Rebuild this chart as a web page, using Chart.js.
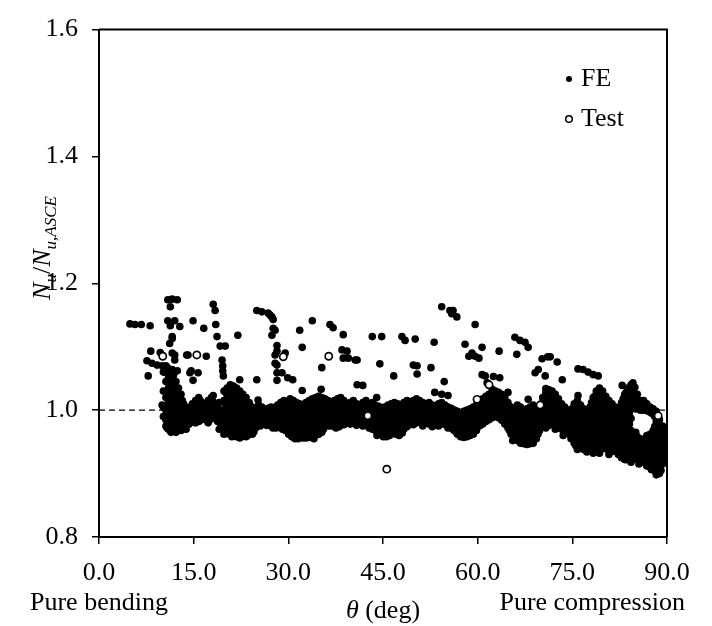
<!DOCTYPE html>
<html>
<head>
<meta charset="utf-8">
<script src="https://cdn.jsdelivr.net/npm/chart.js@4.4.1/dist/chart.umd.min.js"></script>
<style>
  html, body { margin: 0; padding: 0; background: #fff; }
  #wrap { width: 712px; height: 626px; }
</style>
</head>
<body>
<div id="wrap"><canvas id="chart" width="712" height="626"></canvas></div>
<script>
// axis ticks
const xTicks = [0, 15, 30, 45, 60, 75, 90];
const yTicks = [0.8, 1.0, 1.2, 1.4, 1.6];
const refRatio = 1.0;

// Test results [theta, Nu/Nu,ASCE]
const testPoints = [
    [10.1, 1.085], [15.5, 1.087], [29.2, 1.084], [36.4, 1.085], [42.6, 0.991],
    [45.6, 0.907], [59.9, 1.017], [61.8, 1.040], [69.9, 1.008], [88.6, 0.991]
];

// FE results, scattered points above the main band
const feUpper = [
    [4.9,1.136],[5.7,1.135],[6.7,1.135],[8.1,1.133],[8.2,1.093],[9.7,1.091],
    [7.6,1.078],[8.4,1.074],[9.2,1.071],[10.0,1.070],[10.8,1.067],[11.6,1.064],[12.4,1.062],
    [7.8,1.054],[10.0,1.008],
    [10.9,1.174],[11.6,1.175],[12.4,1.174],[11.3,1.163],
    [10.9,1.141],[12.0,1.141],[12.8,1.132],[11.3,1.133],
    [11.6,1.116],[11.6,1.113],[11.2,1.105],[11.6,1.090],[12.0,1.087],[12.0,1.079],
    [13.9,1.087],[14.1,1.087],[17.0,1.085],[14.9,1.141],[16.6,1.129],
    [14.4,1.059],[15.7,1.059],[14.6,1.062],[14.9,1.047],
    [18.1,1.167],[18.4,1.157],[18.5,1.135],[18.7,1.116],[19.2,1.101],[20.0,1.101],
    [19.5,1.079],[19.6,1.070],[19.6,1.062],[19.7,1.054],[22.0,1.118],
    [25.0,1.157],[25.8,1.155],[26.8,1.153],[27.1,1.150],[27.4,1.147],[27.6,1.143],
    [27.6,1.129],[27.9,1.126],[27.4,1.118],[28.2,1.102],
    [28.2,1.093],[29.5,1.090],[27.9,1.087],[27.9,1.074],[28.2,1.071],[28.2,1.059],
    [22.3,1.048],[25.0,1.048],[18.1,1.023],[25.2,1.016],
    [29.0,1.059],[29.9,1.051],[30.7,1.048],[28.2,1.047],
    [31.8,1.126],[33.8,1.141],[36.6,1.135],[37.1,1.130],[38.7,1.119],
    [32.2,1.099],[38.5,1.095],[39.3,1.093],[38.7,1.082],[39.5,1.082],[40.6,1.079],
    [35.3,1.067],[40.9,1.079],[40.9,1.040],[41.8,1.039],[32.2,1.031],[35.2,1.033],
    [43.3,1.116],[44.8,1.116],[48.0,1.116],[48.5,1.110],[50.1,1.112],[53.1,1.107],
    [44.5,1.073],[49.8,1.071],[50.4,1.070],[50.4,1.057],[52.6,1.067],[46.7,1.054],[54.7,1.045],
    [53.2,1.028],[54.3,1.025],[55.3,1.023],[44.0,1.020],
    [54.3,1.163],[55.6,1.157],[55.9,1.152],[56.1,1.157],[56.7,1.147],
    [59.6,1.135],[58.0,1.104],[60.7,1.099],[58.6,1.085],[59.1,1.090],[59.6,1.085],[60.2,1.082],
    [63.4,1.093],[65.9,1.115],[66.7,1.110],[67.5,1.107],[68.0,1.099],[66.2,1.088],
    [70.2,1.081],[71.1,1.084],[71.5,1.084],[72.6,1.076],
    [60.7,1.056],[61.2,1.054],[62.5,1.053],[63.5,1.051],[61.5,1.043],[62.3,1.033],
    [69.1,1.059],[69.6,1.064],[70.7,1.054],[70.8,1.034],[64.8,1.028],[68.0,1.017],[73.4,1.048],
    [75.9,1.065],[76.7,1.064],[77.5,1.060],[78.3,1.056],[79.1,1.054],
    [82.9,1.039],[84.6,1.043],[84.9,1.036],[75.9,1.023]
];

// FE results, the dense band around 1.0
const feBand = [
    [10.2,1.06],[10.2,1.03],[10.2,1.005],[10.2,0.99],
    [10.6,1.07],[10.6,1.045],[10.6,1.02],[10.6,1.0],[10.6,0.985],[10.6,0.975],
    [11.0,1.065],[11.0,1.05],[11.0,1.035],[11.0,1.015],[11.0,0.995],[11.0,0.98],[11.0,0.97],
    [11.4,1.06],[11.4,1.04],[11.4,1.025],[11.4,1.01],[11.4,0.99],[11.4,0.975],[11.4,0.965],
    [11.8,1.055],[11.8,1.03],[11.8,1.015],[11.8,1.0],[11.8,0.985],[11.8,0.97],
    [12.2,1.045],[12.2,1.02],[12.2,1.005],[12.2,0.99],[12.2,0.975],[12.2,0.965],
    [12.6,1.035],[12.6,1.01],[12.6,0.995],[12.6,0.98],[12.6,0.97],
    [13.0,1.025],[13.0,1.005],[13.0,0.99],[13.0,0.975],[13.0,0.968],
    [13.4,1.01],[13.4,0.998],[13.4,0.985],[13.4,0.972],
    [13.8,1.005],[13.8,0.992],[13.8,0.98],[13.8,0.97],
    [14.3,1.0],[14.3,0.99],[14.3,0.978],
    [14.8,1.01],[14.8,0.998],[14.8,0.985],
    [15.3,1.015],[15.3,1.0],[15.3,0.99],[15.3,0.98],
    [15.8,1.02],[15.8,1.005],[15.8,0.992],[15.8,0.982],
    [16.3,1.012],[16.3,1.0],[16.3,0.988],
    [16.8,1.008],[16.8,0.995],[16.8,0.986],
    [17.3,1.015],[17.3,1.0],[17.3,0.99],[17.3,0.98],
    [17.8,1.02],[17.8,1.005],[17.8,0.993],
    [18.3,1.01],[18.3,0.998],[18.3,0.988],
    [18.8,1.005],[18.8,0.992],[18.8,0.982],
    [19.3,1.0],[19.3,0.988],[19.3,0.975],
    [19.8,1.03],[19.8,1.015],[19.8,1.0],[19.8,0.985],[19.8,0.972],[19.8,0.962],
    [20.3,1.035],[20.3,1.02],[20.3,1.005],[20.3,0.99],[20.3,0.975],[20.3,0.963],
    [20.8,1.04],[20.8,1.025],[20.8,1.01],[20.8,0.995],[20.8,0.98],[20.8,0.965],
    [21.3,1.038],[21.3,1.022],[21.3,1.008],[21.3,0.992],[21.3,0.978],[21.3,0.962],
    [21.8,1.035],[21.8,1.018],[21.8,1.0],[21.8,0.985],[21.8,0.97],[21.8,0.958],
    [22.3,1.03],[22.3,1.012],[22.3,0.995],[22.3,0.98],[22.3,0.965],[22.3,0.956],
    [22.8,1.025],[22.8,1.008],[22.8,0.99],[22.8,0.975],[22.8,0.96],
    [23.3,1.02],[23.3,1.003],[23.3,0.985],[23.3,0.968],[23.3,0.958],
    [23.8,1.012],[23.8,0.998],[23.8,0.98],[23.8,0.965],
    [24.3,1.005],[24.3,0.99],[24.3,0.975],[24.3,0.962],
    [24.8,1.0],[24.8,0.988],[24.8,0.972],
    [25.3,1.008],[25.3,0.995],[25.3,0.982],
    [25.8,1.005],[25.8,0.992],[25.8,0.978],
    [26.3,1.0],[26.3,0.99],[26.3,0.98],
    [26.8,1.003],[26.8,0.993],[26.8,0.983],
    [27.3,1.005],[27.3,0.995],[27.3,0.985],[27.3,0.975],
    [27.8,1.0],[27.8,0.99],[27.8,0.978],
    [28.3,1.008],[28.3,0.996],[28.3,0.985],
    [28.8,1.012],[28.8,1.0],[28.8,0.988],[28.8,0.976],
    [29.3,1.015],[29.3,1.002],[29.3,0.99],[29.3,0.978],
    [29.8,1.01],[29.8,0.998],[29.8,0.985],[29.8,0.972],
    [30.3,1.018],[30.3,1.005],[30.3,0.992],[30.3,0.98],[30.3,0.968],
    [30.8,1.015],[30.8,1.0],[30.8,0.988],[30.8,0.975],[30.8,0.963],
    [31.3,1.012],[31.3,0.998],[31.3,0.985],[31.3,0.972],[31.3,0.96],
    [31.8,1.01],[31.8,0.995],[31.8,0.982],[31.8,0.968],[31.8,0.958],
    [32.3,1.008],[32.3,0.993],[32.3,0.978],[32.3,0.965],[32.3,0.956],
    [32.8,1.012],[32.8,0.996],[32.8,0.98],[32.8,0.966],[32.8,0.956],
    [33.3,1.015],[33.3,1.0],[33.3,0.985],[33.3,0.97],[33.3,0.957],
    [33.8,1.018],[33.8,1.003],[33.8,0.988],[33.8,0.972],[33.8,0.958],
    [34.3,1.02],[34.3,1.005],[34.3,0.99],[34.3,0.975],[34.3,0.96],
    [34.8,1.022],[34.8,1.008],[34.8,0.992],[34.8,0.978],[34.8,0.962],
    [35.3,1.02],[35.3,1.005],[35.3,0.99],[35.3,0.976],[35.3,0.965],
    [35.8,1.018],[35.8,1.003],[35.8,0.988],[35.8,0.975],
    [36.3,1.015],[36.3,1.0],[36.3,0.986],[36.3,0.975],
    [36.8,1.012],[36.8,0.998],[36.8,0.985],[36.8,0.975],
    [37.3,1.015],[37.3,1.0],[37.3,0.988],[37.3,0.976],
    [37.8,1.018],[37.8,1.003],[37.8,0.99],[37.8,0.978],
    [38.3,1.02],[38.3,1.005],[38.3,0.992],[38.3,0.98],
    [38.8,1.015],[38.8,1.0],[38.8,0.988],[38.8,0.977],
    [39.3,1.01],[39.3,0.997],[39.3,0.985],
    [39.8,1.012],[39.8,1.0],[39.8,0.988],[39.8,0.978],
    [40.3,1.015],[40.3,1.003],[40.3,0.99],
    [40.8,1.01],[40.8,0.998],[40.8,0.986],[40.8,0.976],
    [41.3,1.008],[41.3,0.995],[41.3,0.983],
    [41.8,1.012],[41.8,0.998],[41.8,0.985],[41.8,0.975],
    [42.3,1.015],[42.3,1.002],[42.3,0.978],
    [42.8,1.01],[42.8,0.998],[42.8,0.972],
    [43.3,1.012],[43.3,0.996],[43.3,0.982],[43.3,0.97],
    [43.8,1.008],[43.8,0.994],[43.8,0.98],[43.8,0.968],
    [44.3,1.006],[44.3,0.992],[44.3,0.978],[44.3,0.965],
    [44.8,1.004],[44.8,0.99],[44.8,0.975],[44.8,0.962],
    [45.3,1.005],[45.3,0.99],[45.3,0.975],[45.3,0.962],
    [45.8,1.008],[45.8,0.992],[45.8,0.977],[45.8,0.963],
    [46.3,1.01],[46.3,0.995],[46.3,0.98],[46.3,0.965],
    [46.8,1.012],[46.8,0.997],[46.8,0.982],[46.8,0.968],
    [47.3,1.01],[47.3,0.995],[47.3,0.98],[47.3,0.966],
    [47.8,1.008],[47.8,0.993],[47.8,0.978],[47.8,0.965],
    [48.3,1.012],[48.3,0.998],[48.3,0.983],[48.3,0.97],
    [48.8,1.015],[48.8,1.0],[48.8,0.986],[48.8,0.974],
    [49.3,1.012],[49.3,0.998],[49.3,0.985],
    [49.8,1.015],[49.8,1.0],[49.8,0.988],[49.8,0.977],
    [50.3,1.018],[50.3,1.004],[50.3,0.99],[50.3,0.98],
    [50.8,1.015],[50.8,1.0],[50.8,0.988],
    [51.3,1.012],[51.3,0.998],[51.3,0.985],[51.3,0.975],
    [51.8,1.01],[51.8,0.996],[51.8,0.984],
    [52.3,1.012],[52.3,0.998],[52.3,0.986],[52.3,0.978],
    [52.8,1.008],[52.8,0.995],[52.8,0.983],[52.8,0.974],
    [53.3,1.005],[53.3,0.993],[53.3,0.982],
    [53.8,1.01],[53.8,0.998],[53.8,0.986],[53.8,0.975],
    [54.3,1.012],[54.3,1.0],[54.3,0.988],[54.3,0.978],
    [54.8,1.008],[54.8,0.996],[54.8,0.985],
    [55.3,1.005],[55.3,0.993],[55.3,0.982],[55.3,0.972],
    [55.8,1.003],[55.8,0.99],[55.8,0.978],
    [56.3,1.0],[56.3,0.988],[56.3,0.975],[56.3,0.968],
    [56.8,0.998],[56.8,0.985],[56.8,0.972],[56.8,0.962],
    [57.3,0.995],[57.3,0.982],[57.3,0.968],[57.3,0.958],
    [57.8,0.998],[57.8,0.984],[57.8,0.97],[57.8,0.957],
    [58.3,1.0],[58.3,0.986],[58.3,0.972],[58.3,0.958],
    [58.8,1.002],[58.8,0.988],[58.8,0.975],[58.8,0.96],
    [59.3,1.005],[59.3,0.99],[59.3,0.978],[59.3,0.962],
    [59.8,1.008],[59.8,0.994],[59.8,0.982],[59.8,0.968],
    [60.3,1.012],[60.3,0.998],[60.3,0.985],[60.3,0.975],
    [60.8,1.018],[60.8,1.004],[60.8,0.99],[60.8,0.978],
    [61.3,1.022],[61.3,1.008],[61.3,0.995],[61.3,0.982],
    [61.8,1.025],[61.8,1.012],[61.8,0.998],[61.8,0.985],
    [62.3,1.028],[62.3,1.015],[62.3,1.0],[62.3,0.988],
    [62.8,1.03],[62.8,1.016],[62.8,1.002],[62.8,0.99],
    [63.3,1.028],[63.3,1.014],[63.3,1.0],[63.3,0.988],
    [63.8,1.025],[63.8,1.01],[63.8,0.996],[63.8,0.984],
    [64.3,1.02],[64.3,1.005],[64.3,0.99],[64.3,0.978],
    [64.8,1.012],[64.8,0.998],[64.8,0.984],[64.8,0.972],
    [65.3,1.005],[65.3,0.99],[65.3,0.975],[65.3,0.962],
    [65.8,1.0],[65.8,0.985],[65.8,0.97],[65.8,0.958],
    [66.3,1.008],[66.3,0.992],[66.3,0.976],[66.3,0.962],[66.3,0.952],
    [66.8,1.005],[66.8,0.99],[66.8,0.974],[66.8,0.96],[66.8,0.948],
    [67.3,1.0],[67.3,0.986],[67.3,0.97],[67.3,0.956],[67.3,0.947],
    [67.8,1.002],[67.8,0.988],[67.8,0.972],[67.8,0.958],[67.8,0.946],
    [68.3,1.005],[68.3,0.99],[68.3,0.975],[68.3,0.96],[68.3,0.947],
    [68.8,1.008],[68.8,0.992],[68.8,0.978],[68.8,0.963],[68.8,0.948],
    [69.3,1.0],[69.3,0.985],[69.3,0.97],[69.3,0.955],
    [69.8,0.998],[69.8,0.984],[69.8,0.968],
    [70.3,1.02],[70.3,1.005],[70.3,0.99],[70.3,0.978],
    [70.8,1.028],[70.8,1.012],[70.8,0.998],[70.8,0.985],[70.8,0.972],
    [71.3,1.032],[71.3,1.018],[71.3,1.003],[71.3,0.99],[71.3,0.976],
    [71.8,1.03],[71.8,1.015],[71.8,1.0],[71.8,0.986],
    [72.3,1.025],[72.3,1.01],[72.3,0.995],[72.3,0.982],[72.3,0.97],
    [72.8,1.018],[72.8,1.004],[72.8,0.99],[72.8,0.977],
    [73.3,1.01],[73.3,0.996],[73.3,0.983],[73.3,0.97],
    [73.8,1.005],[73.8,0.99],[73.8,0.978],[73.8,0.965],
    [74.3,1.0],[74.3,0.985],[74.3,0.972],
    [74.8,0.996],[74.8,0.982],[74.8,0.968],[74.8,0.955],
    [75.3,1.01],[75.3,0.994],[75.3,0.978],[75.3,0.962],[75.3,0.948],
    [75.8,1.015],[75.8,0.998],[75.8,0.982],[75.8,0.965],[75.8,0.95],[75.8,0.938],
    [76.3,1.008],[76.3,0.992],[76.3,0.975],[76.3,0.958],[76.3,0.944],
    [76.8,1.002],[76.8,0.986],[76.8,0.97],[76.8,0.955],[76.8,0.938],
    [77.3,0.998],[77.3,0.982],[77.3,0.966],[77.3,0.95],[77.3,0.934],
    [77.8,1.005],[77.8,0.988],[77.8,0.972],[77.8,0.955],[77.8,0.94],
    [78.3,1.02],[78.3,1.003],[78.3,0.986],[78.3,0.97],[78.3,0.952],[78.3,0.932],
    [78.8,1.03],[78.8,1.012],[78.8,0.995],[78.8,0.978],[78.8,0.96],[78.8,0.942],
    [79.3,1.035],[79.3,1.018],[79.3,1.0],[79.3,0.982],[79.3,0.965],[79.3,0.948],[79.3,0.932],
    [79.8,1.03],[79.8,1.012],[79.8,0.995],[79.8,0.977],[79.8,0.96],[79.8,0.944],
    [80.3,1.022],[80.3,1.005],[80.3,0.988],[80.3,0.97],[80.3,0.955],
    [80.8,1.015],[80.8,0.998],[80.8,0.98],[80.8,0.962],[80.8,0.945],[80.8,0.93],
    [81.3,1.01],[81.3,0.992],[81.3,0.975],[81.3,0.958],[81.3,0.94],
    [81.8,1.005],[81.8,0.987],[81.8,0.97],[81.8,0.952],[81.8,0.935],
    [82.3,1.0],[82.3,0.982],[82.3,0.965],[82.3,0.948],[82.3,0.93],
    [82.8,1.012],[82.8,0.994],[82.8,0.976],[82.8,0.958],[82.8,0.94],[82.8,0.925],
    [83.3,1.025],[83.3,1.008],[83.3,0.99],[83.3,0.972],[83.3,0.955],[83.3,0.937],[83.3,0.922],
    [83.8,1.035],[83.8,1.018],[83.8,1.0],[83.8,0.982],[83.8,0.964],[83.8,0.946],[83.8,0.928],
    [84.3,1.04],[84.3,1.022],[84.3,1.005],[84.3,0.987],[84.3,0.968],[84.3,0.95],[84.3,0.932],[84.3,0.918],
    [84.8,1.035],[84.8,1.018],[84.8,1.004],[84.8,0.955],[84.8,0.94],[84.8,0.928],
    [85.3,1.025],[85.3,1.01],[85.3,0.958],[85.3,0.94],[85.3,0.922],
    [85.8,1.015],[85.8,1.0],[85.8,0.955],[85.8,0.938],[85.8,0.922],
    [86.3,1.015],[86.3,1.0],[86.3,0.952],[86.3,0.935],[86.3,0.918],
    [86.8,1.01],[86.8,0.96],[86.8,0.944],[86.8,0.927],[86.8,0.912],
    [87.3,1.005],[87.3,0.962],[87.3,0.945],[87.3,0.928],[87.3,0.91],
    [87.8,1.002],[87.8,0.968],[87.8,0.95],[87.8,0.932],[87.8,0.915],
    [88.3,0.998],[88.3,0.982],[88.3,0.965],[88.3,0.948],[88.3,0.93],[88.3,0.912],[88.3,0.898],
    [88.8,0.985],[88.8,0.968],[88.8,0.95],[88.8,0.935],[88.8,0.918],[88.8,0.9],
    [89.3,0.975],[89.3,0.96],[89.3,0.945],[89.3,0.93],[89.3,0.915],
    [89.7,0.965],[89.7,0.948],[89.7,0.93]
];

// FE results, more band points read between the columns above
const feBandFill = [
    [10.8,1.058],[10.8,1.028],[10.8,1.008],[10.8,0.99],[10.8,0.972],
    [11.2,1.045],[11.2,1.022],[11.2,1.003],[11.2,0.985],[11.2,0.97],
    [11.6,1.048],[11.6,1.02],[11.6,1.005],[11.6,0.995],[11.6,0.978],[11.6,0.968],
    [12.0,1.038],[12.0,1.01],[12.0,0.995],[12.0,0.98],[12.0,0.968],
    [12.4,1.028],[12.4,1.0],[12.4,0.985],[12.4,0.972],
    [12.8,1.018],[12.8,1.0],[12.8,0.985],[12.8,0.972],
    [13.2,1.015],[13.2,0.992],[13.2,0.978],
    [13.6,0.998],[13.6,0.986],[13.6,0.975],
    [14.55,1.005],[14.55,0.99],[14.55,0.982],
    [15.05,1.008],[15.05,0.994],[15.05,0.984],
    [15.55,1.012],[15.55,0.998],[15.55,0.986],
    [16.05,1.015],[16.05,0.994],[16.05,0.984],
    [16.55,1.005],[16.55,0.992],
    [17.05,1.01],[17.05,0.996],[17.05,0.984],
    [17.55,1.012],[17.55,0.998],[17.55,0.985],
    [18.05,1.014],[18.05,1.002],[18.05,0.99],
    [18.55,1.0],[18.55,0.986],
    [19.05,1.012],[19.05,0.996],[19.05,0.982],[19.05,0.97],
    [20.05,1.028],[20.05,1.01],[20.05,0.995],[20.05,0.98],[20.05,0.968],
    [20.55,1.03],[20.55,1.012],[20.55,0.998],[20.55,0.982],[20.55,0.97],
    [21.05,1.032],[21.05,1.015],[21.05,1.0],[21.05,0.985],[21.05,0.972],[21.05,0.958],
    [21.55,1.028],[21.55,1.012],[21.55,0.993],[21.55,0.978],[21.55,0.965],
    [22.05,1.025],[22.05,1.005],[22.05,0.99],[22.05,0.972],[22.05,0.96],
    [22.55,1.02],[22.55,1.002],[22.55,0.985],[22.55,0.97],[22.55,0.958],
    [23.05,1.012],[23.05,0.996],[23.05,0.978],[23.05,0.962],
    [23.55,1.008],[23.55,0.99],[23.55,0.972],[23.55,0.96],
    [24.05,1.0],[24.05,0.984],[24.05,0.97],
    [24.55,0.996],[24.55,0.982],[24.55,0.966],
    [25.05,1.003],[25.05,0.99],[25.05,0.977],
    [25.55,1.0],[25.55,0.986],[25.55,0.975],
    [26.05,0.996],[26.05,0.985],
    [26.55,0.998],[26.55,0.987],[26.55,0.976],
    [27.05,1.0],[27.05,0.989],[27.05,0.979],
    [27.55,0.998],[27.55,0.985],[27.55,0.972],
    [28.05,1.004],[28.05,0.993],[28.05,0.982],[28.05,0.972],
    [28.55,1.006],[28.55,0.993],[28.55,0.98],
    [29.05,1.008],[29.05,0.995],[29.05,0.983],[29.05,0.97],
    [29.55,1.005],[29.55,0.992],[29.55,0.98],[29.55,0.968],
    [30.05,1.012],[30.05,0.998],[30.05,0.986],[30.05,0.974],[30.05,0.962],
    [30.55,1.008],[30.55,0.995],[30.55,0.982],[30.55,0.969],[30.55,0.958],
    [31.05,1.006],[31.05,0.992],[31.05,0.978],[31.05,0.966],[31.05,0.955],
    [31.55,1.004],[31.55,0.99],[31.55,0.976],[31.55,0.963],[31.55,0.955],
    [32.05,1.0],[32.05,0.986],[32.05,0.972],[32.05,0.96],
    [32.55,1.002],[32.55,0.986],[32.55,0.972],[32.55,0.96],
    [33.05,1.006],[33.05,0.992],[33.05,0.978],[33.05,0.963],
    [33.55,1.01],[33.55,0.994],[33.55,0.98],[33.55,0.965],
    [34.05,1.012],[34.05,0.996],[34.05,0.982],[34.05,0.967],[34.05,0.955],
    [34.55,1.014],[34.55,0.998],[34.55,0.984],[34.55,0.97],
    [35.05,1.012],[35.05,0.998],[35.05,0.983],[35.05,0.97],
    [35.55,1.01],[35.55,0.996],[35.55,0.982],[35.55,0.97],
    [36.05,1.008],[36.05,0.994],[36.05,0.98],
    [36.55,1.006],[36.55,0.992],[36.55,0.98],
    [37.05,1.006],[37.05,0.993],[37.05,0.982],
    [37.55,1.01],[37.55,0.996],[37.55,0.984],[37.55,0.972],
    [38.05,1.012],[38.05,0.998],[38.05,0.986],[38.05,0.974],
    [38.55,1.008],[38.55,0.995],[38.55,0.984],
    [39.05,1.004],[39.05,0.992],[39.05,0.98],
    [39.55,1.005],[39.55,0.993],[39.55,0.982],
    [40.05,1.008],[40.05,0.995],[40.05,0.984],
    [40.55,1.005],[40.55,0.992],[40.55,0.981],
    [41.05,1.002],[41.05,0.99],[41.05,0.978],
    [41.55,1.004],[41.55,0.991],[41.55,0.98],
    [42.05,1.008],[42.05,0.995],[42.05,0.982],
    [42.55,1.004],[42.55,0.984],
    [43.05,1.003],[43.05,0.99],[43.05,0.976],
    [43.55,1.002],[43.55,0.988],[43.55,0.975],
    [44.05,1.0],[44.05,0.986],[44.05,0.972],[44.05,0.96],
    [44.55,0.998],[44.55,0.984],[44.55,0.969],
    [45.05,0.997],[45.05,0.982],[45.05,0.968],[45.05,0.958],
    [45.55,1.0],[45.55,0.984],[45.55,0.97],[45.55,0.958],
    [46.05,1.002],[46.05,0.987],[46.05,0.972],[46.05,0.96],
    [46.55,1.004],[46.55,0.99],[46.55,0.975],
    [47.05,1.004],[47.05,0.989],[47.05,0.974],[47.05,0.962],
    [47.55,1.002],[47.55,0.986],[47.55,0.972],[47.55,0.96],
    [48.05,1.005],[48.05,0.99],[48.05,0.976],[48.05,0.964],
    [48.55,1.008],[48.55,0.993],[48.55,0.979],
    [49.05,1.006],[49.05,0.992],[49.05,0.979],
    [49.55,1.007],[49.55,0.994],[49.55,0.981],
    [50.05,1.01],[50.05,0.996],[50.05,0.984],
    [50.55,1.008],[50.55,0.994],[50.55,0.982],
    [51.05,1.006],[51.05,0.992],[51.05,0.98],
    [51.55,1.004],[51.55,0.99],[51.55,0.979],
    [52.05,1.005],[52.05,0.992],[52.05,0.981],
    [52.55,1.002],[52.55,0.99],[52.55,0.978],
    [53.05,1.0],[53.05,0.988],[53.05,0.977],
    [53.55,1.004],[53.55,0.991],[53.55,0.979],
    [54.05,1.006],[54.05,0.994],[54.05,0.982],
    [54.55,1.002],[54.55,0.99],[54.55,0.98],
    [55.05,0.999],[55.05,0.987],[55.05,0.976],
    [55.55,0.997],[55.55,0.984],[55.55,0.974],
    [56.05,0.994],[56.05,0.982],[56.05,0.97],
    [56.55,0.992],[56.55,0.978],[56.55,0.966],
    [57.05,0.99],[57.05,0.976],[57.05,0.962],
    [57.55,0.99],[57.55,0.976],[57.55,0.963],
    [58.05,0.993],[58.05,0.979],[58.05,0.965],
    [58.55,0.995],[58.55,0.981],[58.55,0.967],
    [59.05,0.997],[59.05,0.984],[59.05,0.969],
    [59.55,1.0],[59.55,0.986],[59.55,0.973],
    [60.05,1.004],[60.05,0.99],[60.05,0.978],
    [60.55,1.01],[60.55,0.996],[60.55,0.983],
    [61.05,1.015],[61.05,1.0],[61.05,0.988],
    [61.55,1.018],[61.55,1.004],[61.55,0.99],
    [62.05,1.022],[62.05,1.008],[62.05,0.994],
    [62.55,1.024],[62.55,1.01],[62.55,0.996],
    [63.05,1.022],[63.05,1.008],[63.05,0.994],
    [63.55,1.018],[63.55,1.004],[63.55,0.99],
    [64.05,1.012],[64.05,0.998],[64.05,0.984],
    [64.55,1.005],[64.55,0.99],[64.55,0.977],
    [65.05,0.998],[65.05,0.982],[65.05,0.968],
    [65.55,0.993],[65.55,0.978],[65.55,0.964],[65.55,0.952],
    [66.05,1.0],[66.05,0.984],[66.05,0.968],[66.05,0.955],
    [66.55,0.998],[66.55,0.982],[66.55,0.967],[66.55,0.954],
    [67.05,0.994],[67.05,0.978],[67.05,0.963],[67.05,0.952],
    [67.55,0.995],[67.55,0.979],[67.55,0.964],[67.55,0.952],
    [68.05,0.998],[68.05,0.982],[68.05,0.967],[68.05,0.953],
    [68.55,1.0],[68.55,0.984],[68.55,0.97],[68.55,0.955],
    [69.05,0.993],[69.05,0.978],[69.05,0.962],
    [69.55,0.99],[69.55,0.976],[69.55,0.962],
    [70.05,1.01],[70.05,0.995],[70.05,0.982],
    [70.55,1.02],[70.55,1.005],[70.55,0.992],[70.55,0.978],
    [71.05,1.025],[71.05,1.01],[71.05,0.996],[71.05,0.983],
    [71.55,1.024],[71.55,1.008],[71.55,0.994],[71.55,0.98],
    [72.05,1.02],[72.05,1.004],[72.05,0.99],[72.05,0.977],
    [72.55,1.012],[72.55,0.998],[72.55,0.984],[72.55,0.972],
    [73.05,1.004],[73.05,0.99],[73.05,0.977],
    [73.55,0.998],[73.55,0.984],[73.55,0.972],[73.55,0.96],
    [74.05,0.993],[74.05,0.978],[74.05,0.965],
    [74.55,0.99],[74.55,0.976],[74.55,0.962],
    [75.05,1.003],[75.05,0.988],[75.05,0.97],[75.05,0.955],
    [75.55,1.006],[75.55,0.99],[75.55,0.973],[75.55,0.957],[75.55,0.944],
    [76.05,1.0],[76.05,0.985],[76.05,0.968],[76.05,0.952],[76.05,0.94],
    [76.55,0.995],[76.55,0.978],[76.55,0.962],[76.55,0.948],
    [77.05,0.99],[77.05,0.974],[77.05,0.958],[77.05,0.942],
    [77.55,0.996],[77.55,0.98],[77.55,0.963],[77.55,0.947],[77.55,0.936],
    [78.05,1.012],[78.05,0.995],[78.05,0.978],[78.05,0.962],[78.05,0.945],
    [78.55,1.022],[78.55,1.004],[78.55,0.987],[78.55,0.97],[78.55,0.952],[78.55,0.936],
    [79.05,1.026],[79.05,1.008],[79.05,0.99],[79.05,0.973],[79.05,0.956],[79.05,0.94],
    [79.55,1.025],[79.55,1.006],[79.55,0.988],[79.55,0.97],[79.55,0.953],[79.55,0.938],
    [80.05,1.015],[80.05,0.998],[80.05,0.98],[80.05,0.963],[80.05,0.948],
    [80.55,1.008],[80.55,0.99],[80.55,0.972],[80.55,0.955],[80.55,0.938],
    [81.05,1.002],[81.05,0.985],[81.05,0.967],[81.05,0.95],[81.05,0.934],
    [81.55,0.998],[81.55,0.98],[81.55,0.962],[81.55,0.945],
    [82.05,0.992],[82.05,0.974],[82.05,0.957],[82.05,0.94],
    [82.55,1.005],[82.55,0.986],[82.55,0.968],[82.55,0.95],[82.55,0.933],
    [83.05,1.018],[83.05,1.0],[83.05,0.982],[83.05,0.964],[83.05,0.946],[83.05,0.93],
    [83.55,1.028],[83.55,1.01],[83.55,0.992],[83.55,0.974],[83.55,0.956],[83.55,0.938],[83.55,0.922],
    [84.05,1.032],[84.05,1.014],[84.05,0.996],[84.05,0.978],[84.05,0.96],[84.05,0.942],[84.05,0.925],
    [84.55,1.028],[84.55,1.012],[84.55,0.962],[84.55,0.945],[84.55,0.93],
    [85.05,1.018],[85.05,1.002],[85.05,0.965],[85.05,0.948],[85.05,0.932],
    [85.55,1.008],[85.55,0.948],[85.55,0.93],[85.55,0.915],
    [86.05,1.008],[86.05,0.944],[86.05,0.928],
    [86.55,1.004],[86.55,0.952],[86.55,0.935],[86.55,0.92],
    [87.05,0.998],[87.05,0.953],[87.05,0.936],[87.05,0.918],
    [87.55,0.995],[87.55,0.958],[87.55,0.94],[87.55,0.922],[87.55,0.906],
    [88.05,0.99],[88.05,0.974],[88.05,0.956],[88.05,0.938],[88.05,0.92],[88.05,0.905],
    [88.55,0.976],[88.55,0.958],[88.55,0.942],[88.55,0.926],[88.55,0.91],
    [89.05,0.968],[89.05,0.952],[89.05,0.938],[89.05,0.922],[89.05,0.905],
    [89.5,0.97],[89.5,0.955],[89.5,0.938],[89.5,0.92]
];

const serif = '"Liberation Serif", "Times New Roman", serif';
const toXY = pts => pts.map(p => ({ x: p[0], y: p[1] }));

// frame, legend and the extra axis texts
const decorPlugin = {
    id: 'decor',
    beforeDraw(chart) {
        const ctx = chart.ctx;
        ctx.save();
        ctx.fillStyle = '#fff';
        ctx.fillRect(0, 0, chart.width, chart.height);
        ctx.restore();
    },
    afterDraw(chart) {
        const ctx = chart.ctx;
        const a = chart.chartArea;
        ctx.save();

        // top and right edges of the box
        ctx.strokeStyle = '#000';
        ctx.lineWidth = 2;
        ctx.beginPath();
        ctx.moveTo(a.left, a.top);
        ctx.lineTo(a.right, a.top);
        ctx.lineTo(a.right, a.bottom);
        ctx.stroke();

        // legend
        const fe = chart.data.datasets[0];
        const test = chart.data.datasets[1];
        ctx.font = '26px ' + serif;
        ctx.fillStyle = '#000';
        ctx.textBaseline = 'middle';
        ctx.textAlign = 'left';
        ctx.beginPath();
        ctx.arc(569, 79, 3, 0, Math.PI * 2);
        ctx.fill();
        ctx.fillText(fe.label, 581, 79);
        ctx.beginPath();
        ctx.arc(569, 119, 3.3, 0, Math.PI * 2);
        ctx.fillStyle = '#fff';
        ctx.fill();
        ctx.lineWidth = 1.5;
        ctx.stroke();
        ctx.fillStyle = '#000';
        ctx.fillText(test.label, 581, 119);

        // x axis texts
        ctx.textBaseline = 'alphabetic';
        ctx.fillText('Pure bending', 30, 610);
        ctx.textAlign = 'right';
        ctx.fillText('Pure compression', 685, 610);
        ctx.textAlign = 'left';
        ctx.font = 'italic 26px ' + serif;
        const thW = ctx.measureText('\u03b8').width;
        ctx.font = '26px ' + serif;
        const restW = ctx.measureText(' (deg)').width;
        let tx = (a.left + a.right) / 2 - (thW + restW) / 2;
        ctx.font = 'italic 26px ' + serif;
        ctx.fillText('\u03b8', tx, 618);
        ctx.font = '26px ' + serif;
        ctx.fillText(' (deg)', tx + thW, 618);

        // y axis title N_u / N_u,ASCE
        const parts = [
            ['N', 'italic 26px ' + serif, 0],
            ['u', 'italic 17px ' + serif, 6],
            ['/', '26px ' + serif, 0],
            ['N', 'italic 26px ' + serif, 0],
            ['u,ASCE', 'italic 17px ' + serif, 6]
        ];
        let total = 0;
        parts.forEach(p => { ctx.font = p[1]; total += ctx.measureText(p[0]).width; });
        ctx.translate(50, 248);
        ctx.rotate(-Math.PI / 2);
        let px = -total / 2;
        parts.forEach(p => {
            ctx.font = p[1];
            ctx.fillText(p[0], px, p[2]);
            px += ctx.measureText(p[0]).width;
        });
        ctx.restore();
    }
};

new Chart(document.getElementById('chart'), {
    type: 'scatter',
    data: {
        datasets: [
            {
                label: 'FE',
                data: toXY(feUpper.concat(feBand, feBandFill)),
                backgroundColor: '#000',
                borderWidth: 0,
                pointRadius: 3.8,
                order: 1
            },
            {
                label: 'Test',
                data: toXY(testPoints),
                backgroundColor: '#fff',
                borderColor: '#000',
                borderWidth: 1.7,
                pointRadius: 3.6,
                order: 0
            },
            {
                label: 'ref',
                type: 'line',
                data: [{ x: xTicks[0], y: refRatio }, { x: xTicks[xTicks.length - 1], y: refRatio }],
                borderColor: '#000',
                borderWidth: 1.3,
                borderDash: [6, 4],
                pointRadius: 0,
                fill: false,
                order: 2
            }
        ]
    },
    options: {
        responsive: false,
        animation: false,
        layout: { padding: { left: 0, right: 45, top: 21, bottom: 0 } },
        plugins: {
            legend: { display: false },
            tooltip: { enabled: false }
        },
        scales: {
            x: {
                type: 'linear',
                min: 0,
                max: 90,
                afterBuildTicks: s => { s.ticks = xTicks.map(v => ({ value: v })); },
                afterFit: s => { s.height = 89; },
                ticks: {
                    color: '#000',
                    font: { family: serif, size: 26 },
                    padding: 14,
                    maxRotation: 0,
                    callback: v => Number(v).toFixed(1)
                },
                grid: { drawOnChartArea: false, tickLength: 7, color: '#000', lineWidth: 1.5 },
                border: { color: '#000', width: 2 }
            },
            y: {
                min: 0.8,
                max: 1.6,
                afterBuildTicks: s => { s.ticks = yTicks.map(v => ({ value: v })); },
                afterFit: s => { s.width = 99; },
                ticks: {
                    color: '#000',
                    font: { family: serif, size: 26 },
                    padding: 14,
                    callback: v => Number(v).toFixed(1)
                },
                grid: { drawOnChartArea: false, tickLength: 7, color: '#000', lineWidth: 1.5 },
                border: { color: '#000', width: 2 }
            }
        }
    },
    plugins: [decorPlugin]
});
</script>
</body>
</html>
